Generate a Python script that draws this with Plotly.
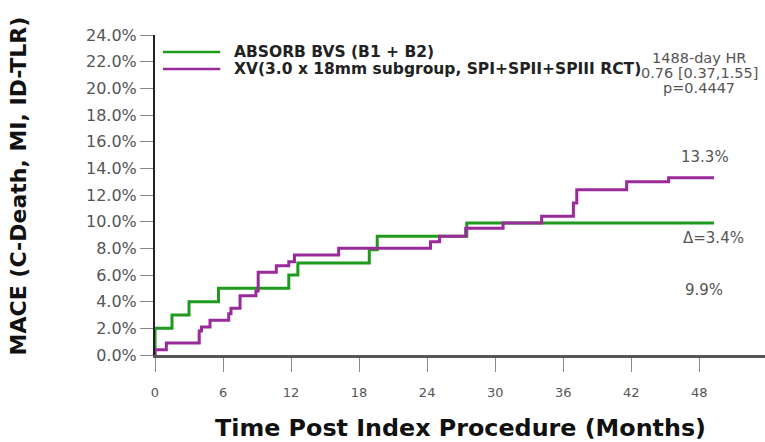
import plotly.graph_objects as go

# Kaplan-Meier style cumulative MACE (%)
green_name = "ABSORB BVS (B1 + B2)"
green_months = [0, 0, 1.5, 3.0, 5.6, 11.8, 12.6, 18.9, 19.6, 27.5, 49.3]
green_mace = [0, 2.0, 3.0, 4.0, 5.0, 6.0, 6.9, 7.9, 8.9, 9.9, 9.9]

purple_name = "XV(3.0 x 18mm subgroup, SPI+SPII+SPIII RCT)"
purple_months = [0, 0, 1.0, 3.9, 4.1, 4.85, 6.5, 6.7, 7.5, 8.9, 9.1, 10.7, 11.8, 12.3,
                 16.2, 24.3, 25.1, 27.4, 30.7, 34.1, 36.9, 37.2, 41.6, 45.3, 49.3]
purple_mace = [0, 0.4, 0.9, 1.8, 2.1, 2.6, 3.1, 3.5, 4.45, 4.8, 6.2, 6.7, 7.0, 7.5,
               8.0, 8.5, 8.9, 9.5, 9.9, 10.4, 11.4, 12.4, 13.0, 13.3, 13.3]

x_ticks = [0, 6, 12, 18, 24, 30, 36, 42, 48]
y_ticks = [0, 2, 4, 6, 8, 10, 12, 14, 16, 18, 20, 22, 24]
y_ticktext = ["%.1f%%" % v for v in y_ticks]

hr_lines = ["1488-day HR", "0.76 [0.37,1.55]", "p=0.4447"]
end_labels = [("13.3%", 48.5, 14.85), ("\u0394=3.4%", 49.3, 8.8), ("9.9%", 48.4, 4.9)]

GREEN = "#1e9a1e"
PURPLE = "#9a2a9a"
GRAY = "#555555"
BOLD = "DejaVu Sans, Arial, sans-serif"

fig = go.Figure()
fig.add_trace(go.Scatter(x=green_months, y=green_mace, mode="lines", name=green_name,
                         line=dict(color=GREEN, width=3, shape="hv"), showlegend=False))
fig.add_trace(go.Scatter(x=purple_months, y=purple_mace, mode="lines", name=purple_name,
                         line=dict(color=PURPLE, width=3, shape="hv"), showlegend=False))

annotations = []
shapes = []
# manual legend
for i, (name, col) in enumerate([(green_name, GREEN), (purple_name, PURPLE)]):
    yp = 0.947 - i * 0.053
    shapes.append(dict(type="line", xref="paper", yref="paper", x0=0.013, x1=0.107,
                       y0=yp, y1=yp, line=dict(color=col, width=2.5)))
    annotations.append(dict(text="<b>%s</b>" % name, xref="paper", yref="paper",
                            x=0.126, y=yp, xanchor="left", yanchor="middle", showarrow=False,
                            font=dict(family=BOLD, size=15.5, color="#222222")))
# HR text
for i, t in enumerate(hr_lines):
    annotations.append(dict(text=t, xref="paper", yref="paper", x=0.892, y=0.928 - i * 0.047,
                            xanchor="center", yanchor="middle", showarrow=False,
                            font=dict(family="DejaVu Sans, Arial", size=14.5, color=GRAY)))
for t, xx, yy in end_labels:
    annotations.append(dict(text=t, x=xx, y=yy, xref="x", yref="y", xanchor="center",
                            yanchor="middle", showarrow=False,
                            font=dict(family="DejaVu Sans, Arial", size=15, color=GRAY)))
# axis titles
annotations.append(dict(text="<b>Time Post Index Procedure (Months)</b>", xref="paper", yref="paper",
                        x=0.5, y=-0.228, xanchor="center", yanchor="middle", showarrow=False,
                        font=dict(family=BOLD, size=23.8, color="#111111")))
annotations.append(dict(text="<b>MACE (C-Death, MI, ID-TLR)</b>", xref="paper", yref="paper",
                        x=-0.2246, y=0.53, xanchor="center", yanchor="middle", showarrow=False,
                        textangle=-90, font=dict(family=BOLD, size=22, color="#111111")))

fig.update_layout(
    width=765, height=442,
    margin=dict(l=155, r=0, t=35, b=87),
    paper_bgcolor="white", plot_bgcolor="white",
    annotations=annotations, shapes=shapes,
    xaxis=dict(range=[0, 53.8], tickmode="array", tickvals=x_ticks,
               ticks="outside", ticklen=14, tickcolor="#888888", tickwidth=1,
               ticklabelstandoff=10,
               tickfont=dict(family="DejaVu Sans, Arial", size=13, color=GRAY),
               showline=True, linecolor="#555555", linewidth=2.5,
               showgrid=False, zeroline=False),
    yaxis=dict(range=[0, 24], tickmode="array", tickvals=y_ticks, ticktext=y_ticktext,
               ticks="outside", ticklen=13, tickcolor="#888888", tickwidth=1,
               tickfont=dict(family="DejaVu Sans, Arial", size=16, color=GRAY),
               showline=True, linecolor="#222222", linewidth=2,
               showgrid=False, zeroline=False),
)

fig.write_html("out.html", config={"displayModeBar": False},
               post_script="document.body.style.margin='0px';")
